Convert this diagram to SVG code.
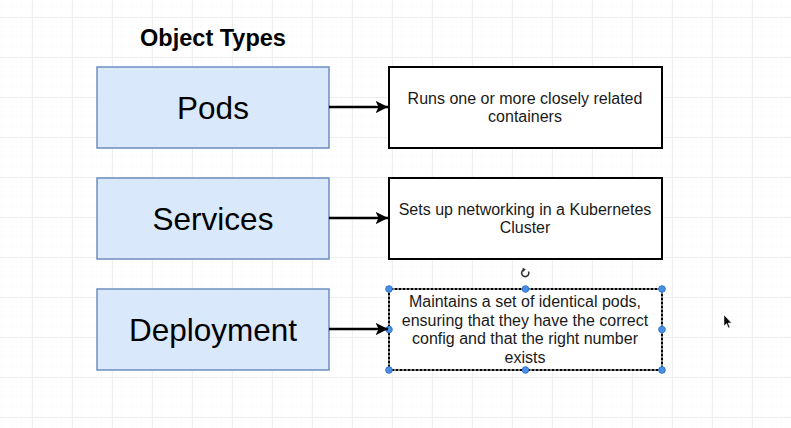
<svg xmlns="http://www.w3.org/2000/svg" width="791" height="428" viewBox="0 0 791 428">
<defs>
<pattern id="minor" width="10" height="10" patternUnits="userSpaceOnUse" x="2" y="7">
<path d="M10 0V10M0 10H10" fill="none" stroke="#f8f8f8" stroke-width="1"/>
</pattern>
<pattern id="major" width="40" height="40" patternUnits="userSpaceOnUse" x="32" y="17">
<path d="M0.5 0V40M0 0.5H40" fill="none" stroke="#efefef" stroke-width="1"/>
</pattern>
<marker id="arr" viewBox="0 0 10 10" refX="10" refY="5" markerWidth="5" markerHeight="5" markerUnits="strokeWidth" orient="auto">
<path d="M0 0L10 5L0 10L2.5 5Z" fill="#000"/>
</marker>
</defs>
<style>
.type{fill:#dae8fc;stroke:#6c8ebf;stroke-width:1.5}
.desc{fill:#fff;stroke:#000;stroke-width:2}
.big{font-family:"Liberation Sans",Arial,sans-serif;font-size:31.5px;fill:#000;text-anchor:middle}
.small{font-family:"Liberation Sans",Arial,sans-serif;font-size:16px;fill:#1a1a1a;text-anchor:middle}
.title{font-family:"Liberation Sans",Arial,sans-serif;font-size:23.5px;font-weight:bold;fill:#000;text-anchor:middle}
.conn{stroke:#000;stroke-width:2.5;fill:none}
.handle{fill:#4a90e2;stroke:#2f75d0;stroke-width:1}
</style>
<rect width="791" height="428" fill="#fff"/>
<rect width="791" height="428" fill="url(#minor)"/>
<rect width="791" height="428" fill="url(#major)"/>

<text class="title" x="213" y="46">Object Types</text>

<g id="pods">
<rect class="type" x="97" y="67" width="232" height="81"/>
<text class="big" x="213" y="119">Pods</text>
</g>
<g id="services">
<rect class="type" x="97" y="178" width="232" height="81"/>
<text class="big" x="213" y="230">Services</text>
</g>
<g id="deployment">
<rect class="type" x="97" y="289" width="232" height="81"/>
<text class="big" x="213" y="341">Deployment</text>
</g>

<g id="pods-desc">
<rect class="desc" x="389" y="67" width="273" height="81"/>
<text class="small" x="525" y="104">Runs one or more closely related</text>
<text class="small" x="525" y="122">containers</text>
</g>
<g id="services-desc">
<rect class="desc" x="389" y="178" width="273" height="81"/>
<text class="small" x="525" y="215">Sets up networking in a Kubernetes</text>
<text class="small" x="525" y="233">Cluster</text>
</g>
<g id="deployment-desc">
<rect class="desc" x="389" y="289" width="273" height="81"/>
<rect x="389" y="289" width="273" height="81" fill="none" stroke="#fff" stroke-width="1" stroke-dasharray="2 2"/>
<text class="small" x="525" y="307">Maintains a set of identical pods,</text>
<text class="small" x="525" y="325.5">ensuring that they have the correct</text>
<text class="small" x="525" y="344">config and that the right number</text>
<text class="small" x="525" y="362.5">exists</text>
<g id="selection">
<circle class="handle" cx="389" cy="289" r="3.3"/>
<circle class="handle" cx="525.5" cy="289" r="3.3"/>
<circle class="handle" cx="662" cy="289" r="3.3"/>
<circle class="handle" cx="389" cy="329.5" r="3.3"/>
<circle class="handle" cx="662" cy="329.5" r="3.3"/>
<circle class="handle" cx="389" cy="370" r="3.3"/>
<circle class="handle" cx="525.5" cy="370" r="3.3"/>
<circle class="handle" cx="662" cy="370" r="3.3"/>
<path d="M528.5 271.5A3.6 3.6 0 1 1 524 269.6" fill="none" stroke="#333" stroke-width="1.6"/>
<path d="M522.5 267.5L525.8 269.4L523 272Z" fill="#333"/>
</g>
</g>

<g id="connectors">
<line class="conn" x1="329" y1="107" x2="388" y2="107" marker-end="url(#arr)"/>
<line class="conn" x1="329" y1="218" x2="388" y2="218" marker-end="url(#arr)"/>
<line class="conn" x1="329" y1="329" x2="388" y2="329" marker-end="url(#arr)"/>
</g>

<path d="M724 315L724 326L726.5 323.5L728.5 328L730 327.3L728 323L731.5 323Z" fill="#000" stroke="#fff" stroke-width="0.5"/>
</svg>
